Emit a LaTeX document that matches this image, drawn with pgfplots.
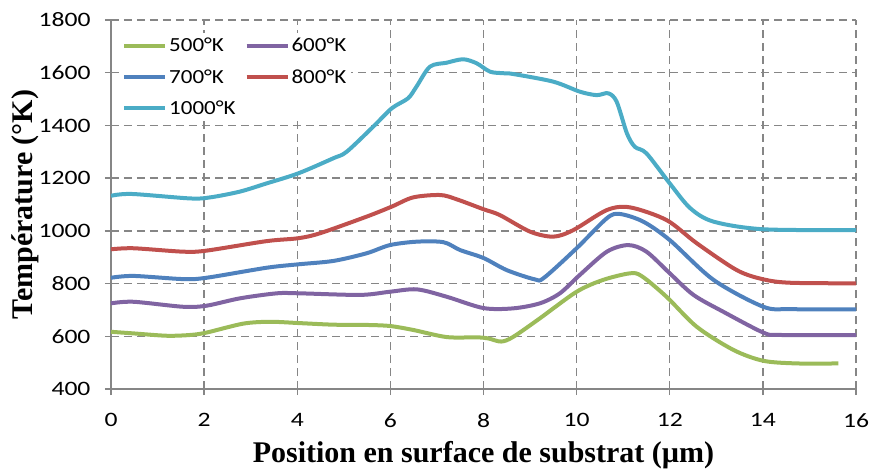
\documentclass[border=0pt]{standalone}
\usepackage{pgfplots}
\pgfplotsset{compat=1.18}
\usepackage{fontspec}
\setmainfont[FakeStretch=1.15]{Carlito}
\newfontfamily\tickfont[FakeStretch=1.25]{Carlito}
\newfontfamily\tnr{Liberation Serif}
\definecolor{cgreen}{HTML}{9BBB59}
\definecolor{cpurple}{HTML}{8064A2}
\definecolor{cblue}{HTML}{4F81BD}
\definecolor{cred}{HTML}{C0504D}
\definecolor{ccyan}{HTML}{4BACC6}
\definecolor{gridgray}{HTML}{868686}
\begin{document}
\begin{tikzpicture}
\useasboundingbox (-111bp,-82bp) rectangle (761bp,389bp);
\begin{axis}[
  at={(0,0)}, anchor=south west,
  scale only axis, width=745bp, height=369bp,
  xmin=0, xmax=16, ymin=400, ymax=1800,
  xtick={0,2,...,16}, ytick={400,600,...,1800},
  grid=major,
  major grid style={gridgray, line width=1.4bp, dash pattern=on 8bp off 5bp},
  axis x line*=bottom, axis y line*=left,
  axis line style={gridgray, line width=1.5bp},
  tick style={gridgray, line width=1.3bp},
  tick align=outside, major tick length=6bp,
  ticklabel style={font=\tickfont\fontsize{20.5bp}{24bp}\selectfont},
  yticklabel style={xshift=-11bp},
  xticklabel style={yshift=-15bp},
  /pgf/number format/assume math mode=true,
  /pgf/number format/set thousands separator={},
  every axis x label/.style={at={(axis description cs:0.5,-0.178)}, anchor=center},
  every axis y label/.style={at={(axis description cs:-0.1154,0.5)}, rotate=90, anchor=center},
  xlabel={\tnr\bfseries\fontsize{30bp}{36bp}\selectfont Position en surface de substrat (µm)},
  ylabel={\tnr\bfseries\fontsize{30bp}{36bp}\selectfont Température (°K)},
  legend columns=2,
  legend cell align=left,
  legend style={at={(axis description cs:0.0,1.0)}, anchor=north west, xshift=8bp, yshift=-13bp,
    draw=none, fill=white, inner sep=3bp,
    font=\fontsize{20bp}{24bp}\selectfont, row sep=12bp,
    /tikz/every even column/.append style={column sep=7bp}},
  legend image code/.code={\draw[#1, line width=4bp] (0bp,0bp) -- (41bp,0bp);},
  every axis plot/.append style={line width=4bp, smooth, tension=0.5},
]
\addplot[cgreen] coordinates {(0,617) (0.48,611) (1.2,602) (1.7,605) (2.05,614) (2.84,648) (3.42,655) (4.05,650) (4.78,644) (5.49,643) (5.99,639) (6.49,624) (7.21,597) (7.85,596) (8.1,592) (8.38,580) (8.64,598) (9.21,668) (10.0,769) (10.57,814) (11.15,839) (11.4,828) (11.93,750) (12.58,636) (13.37,548) (14.01,507) (14.73,497) (15.62,497)};
\addlegendentry{500°K}
\addplot[cpurple] coordinates {(0,725) (0.48,731) (1.55,712) (2.05,716) (2.77,744) (3.56,763) (4.05,763) (5.35,757) (5.99,769) (6.57,778) (7.21,750) (8.0,707) (8.64,706) (9.21,725) (9.64,763) (10.07,833) (10.65,921) (11.11,946) (11.5,921) (12.0,839) (12.51,757) (13.15,693) (14.01,614) (14.37,605) (16,604)};
\addlegendentry{600°K}
\addplot[cblue] coordinates {(0,822) (0.48,829) (1.55,817) (2.05,822) (3.34,860) (4.02,873) (4.78,886) (5.49,915) (5.99,946) (6.57,959) (7.14,957) (7.5,927) (8.0,897) (8.5,851) (9.1,816) (9.3,822) (10.0,934) (10.65,1048) (10.93,1064) (11.43,1035) (12.0,965) (12.94,814) (14.01,712) (14.6,703) (16,702)};
\addlegendentry{700°K}
\addplot[cred] coordinates {(0,930) (0.48,934) (1.55,921) (2.05,925) (3.34,961) (4.02,972) (4.49,991) (5.49,1054) (6.03,1092) (6.49,1127) (7.07,1136) (7.42,1120) (8.0,1082) (8.35,1060) (9.0,997) (9.5,978) (9.93,1003) (10.65,1079) (11.15,1089) (11.93,1041) (12.58,953) (13.44,851) (14.01,816) (14.6,803) (16,801)};
\addlegendentry{800°K}
\addplot[ccyan] coordinates {(0,1133) (0.44,1140) (1.7,1123) (2.13,1127) (2.77,1149) (3.34,1180) (4.02,1218) (4.77,1275) (5.06,1300) (5.63,1395) (6.03,1465) (6.38,1503) (6.56,1547) (6.85,1623) (7.21,1638) (7.56,1651) (7.85,1636) (8.14,1604) (8.43,1598) (8.64,1595) (9.5,1566) (10.07,1528) (10.43,1515) (10.68,1522) (10.86,1490) (11.08,1370) (11.25,1319) (11.5,1294) (12.0,1180) (12.44,1086) (12.94,1035) (14.01,1006) (16,1003)};
\addlegendentry{1000°K}
\end{axis}
\end{tikzpicture}
\end{document}
